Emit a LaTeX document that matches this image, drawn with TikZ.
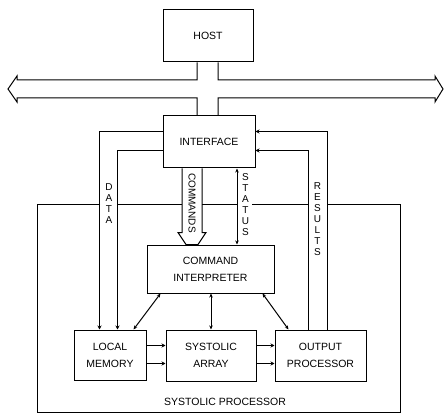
\documentclass[tikz,border=0pt]{standalone}
\usepackage{fontspec}
\setmainfont{Liberation Sans}
\usetikzlibrary{arrows.meta,calc}
\begin{document}
\begin{tikzpicture}[x=1pt,y=-1pt,
  ln/.style={line width=1pt},
  blk/.style={draw,ln,inner sep=0pt,align=center,font=\fontsize{10.5}{17}\selectfont},
  tip/.style={-{Stealth[length=4pt,width=4pt]}},
  dtip/.style={{Stealth[length=4pt,width=3.5pt]}-{Stealth[length=4pt,width=3.5pt]}},
  lbl/.style={inner sep=0pt,align=center,font=\fontsize{10}{11}\selectfont},
  ttl/.style={inner sep=0pt,font=\fontsize{10.5}{12}\selectfont}]
\useasboundingbox (0,0) rectangle (444,414);
% blocks
\node[blk,minimum width=90pt,minimum height=52pt] (host) at (208,36) {HOST};
\node[blk,minimum width=92pt,minimum height=52pt] (iface) at (209,142) {INTERFACE};
\node[blk,minimum width=127pt,minimum height=48pt] (ci) at (210.5,269) {COMMAND\\INTERPRETER};
\node[blk,minimum width=72pt,minimum height=50pt] (lm) at (110,355) {LOCAL\\MEMORY};
\node[blk,minimum width=90pt,minimum height=51pt] (sa) at (211,355.5) {SYSTOLIC\\ARRAY};
\node[blk,minimum width=91pt,minimum height=51pt] (op) at (320.5,355.5) {OUTPUT\\PROCESSOR};
% bus
\coordinate (hL) at ([xshift=-11pt]host.south);
\coordinate (hR) at ([xshift=10pt]host.south);
\draw[ln,line join=miter] (hL) -- (hL |- 0,80) -- (17,80) -- (17,76) -- (8,89) -- (17,102) -- (17,98)
  -- (hL |- 0,98) -- (hL |- iface.north);
\draw[ln,line join=miter] (hR) -- (hR |- 0,80) -- (435,80) -- (435,76) -- (443,89) -- (435,102) -- (435,98)
  -- (hR |- 0,98) -- (hR |- iface.north);
% systolic processor border
\draw[ln] (100,204) -- (37,204) -- (37,412) -- (400,412) -- (400,204) -- (327,204);
\draw[ln] (118,204) -- (182,204);
\draw[ln] (202,204) -- (237,204);
\draw[ln] (252,204) -- (308,204);
\node[ttl] (sptitle) at (225,402) {SYSTOLIC PROCESSOR};
% DATA
\coordinate (dO) at ([yshift=-16pt]iface.north west);
\coordinate (dI) at ([yshift=-35pt]iface.north west);
\draw[ln,tip] (dO) -| ([xshift=26pt]lm.north west);
\draw[ln,tip] (dI) -| ([xshift=44pt]lm.north west);
\node[lbl] (datal) at (109,204) {D\\A\\T\\A};
% RESULTS
\coordinate (rO) at ([xshift=6.5pt]op.north);
\coordinate (rI) at ([xshift=-12.5pt]op.north);
\draw[ln,tip] (rO) |- ([yshift=-16pt]iface.north east);
\draw[ln,tip] (rI) |- ([yshift=-35pt]iface.north east);
\node[lbl] (resl) at (317.5,219) {R\\E\\S\\U\\L\\T\\S};
% COMMANDS
\coordinate (cmL) at ([xshift=-27pt]iface.south);
\coordinate (cmR) at ([xshift=-7pt]iface.south);
\draw[ln,line join=miter] (cmL) -- ([yshift=12pt]cmL |- ci.north) -- ++(-4,0) -- ([xshift=4pt]cmL |- ci.north)
  -- ([xshift=-4pt]cmR |- ci.north) -- ([yshift=12pt,xshift=4pt]cmR |- ci.north) -- ++(-4,0) -- (cmR);
\node[lbl,rotate=-90,font=\fontsize{10}{11}\selectfont] (cmdl) at (192,203) {COMMANDS};
% STATUS
\coordinate (st) at ([xshift=28pt]iface.south);
\draw[ln,dtip] (st) -- (st |- ci.north);
\node[lbl] (statl) at (245.5,205) {S\\T\\A\\T\\U\\S};
% CI links
\draw[ln,dtip] ([xshift=14pt]ci.south west) -- ([xshift=-13pt]lm.north east);
\draw[ln,dtip] (ci.south -| sa.north) -- (sa.north);
\draw[ln,dtip] ([xshift=-12pt]ci.south east) -- ([xshift=14pt]op.north west);
% data paths between LM, SA, OP
\draw[ln,tip] ([yshift=-16pt]lm.north east) -- ([yshift=-16pt]lm.north east -| sa.west);
\draw[ln,tip] ([yshift=-34pt]lm.north east) -- ([yshift=-34pt]lm.north east -| sa.west);
\draw[ln,tip] ([yshift=-16pt]sa.north east) -- ([yshift=-16pt]sa.north east -| op.west);
\draw[ln,tip] ([yshift=-34pt]sa.north east) -- ([yshift=-34pt]sa.north east -| op.west);
\end{tikzpicture}
\end{document}
